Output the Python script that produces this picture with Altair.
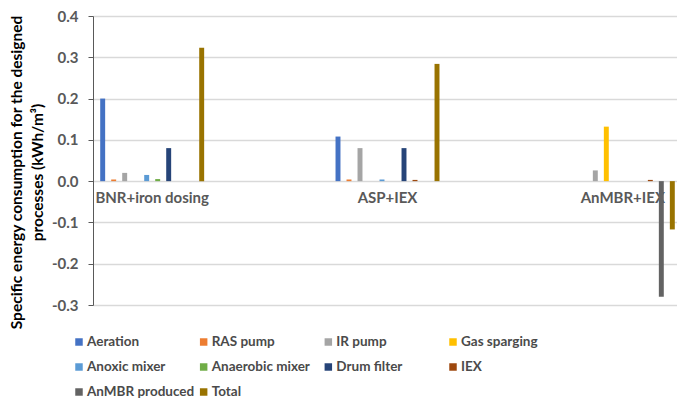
import altair as alt
import pandas as pd

processes = ["BNR+iron dosing", "ASP+IEX", "AnMBR+IEX"]
components = ["Aeration", "RAS pump", "IR pump", "Gas sparging", "Anoxic mixer",
              "Anaerobic mixer", "Drum filter", "IEX", "AnMBR produced", "Total"]
colors = ["#4472C4", "#ED7D31", "#A5A5A5", "#FFC000", "#5B9BD5",
          "#70AD47", "#264478", "#9E480E", "#636363", "#997300"]

bnr_values = [0.200, 0.004, 0.020, 0.0, 0.015, 0.005, 0.080, 0.0, 0.0, 0.323]
asp_values = [0.108, 0.004, 0.080, 0.0, 0.004, 0.0, 0.080, 0.003, 0.0, 0.284]
anmbr_values = [0.0, 0.0, 0.026, 0.132, 0.0, 0.0, 0.0, 0.003, -0.280, -0.117]

y_ticks = [-0.3, -0.2, -0.1, 0.0, 0.1, 0.2, 0.3, 0.4]

rows = []
for proc, vals in zip(processes, [bnr_values, asp_values, anmbr_values]):
    for comp, v in zip(components, vals):
        rows.append({"process": proc, "component": comp, "value": v})
df = pd.DataFrame(rows)

legend_df = pd.DataFrame({
    "component": components,
    "col": [i % 4 for i in range(len(components))],
    "row": [i // 4 for i in range(len(components))],
})

FONT = "Lato"
GREY = "#595959"
color_scale = alt.Scale(domain=components, range=colors)

bars = alt.Chart(df).mark_bar().encode(
    x=alt.X("process:N", sort=processes,
            scale=alt.Scale(paddingInner=0.497, paddingOuter=0, range=[0, 589]),
            axis=alt.Axis(title=None, orient="bottom", offset=-124, domain=False,
                          ticks=False, labelAngle=0, labelPadding=9,
                          labelFont=FONT, labelFontSize=15, labelFontWeight="bold",
                          labelColor=GREY)),
    xOffset=alt.XOffset("component:N", sort=components,
                        scale=alt.Scale(paddingInner=0.55, paddingOuter=0.655)),
    y=alt.Y("value:Q", scale=alt.Scale(domain=[-0.3, 0.4], nice=False, zero=False),
            axis=alt.Axis(values=y_ticks,
                          labelExpr="datum.value < 0 ? '-' + format(-datum.value, '.1f') : format(datum.value, '.1f')",
                          title=["Specific energy consumption for the designed", "processes (kWh/m³)"],
                          titleFont=FONT, titleFontSize=15.5, titleFontWeight="bold",
                          titleColor="#000000", titleLineHeight=21, titlePadding=6,
                          titleY=156,
                          labelFont=FONT, labelFontSize=15, labelFontWeight="bold",
                          labelColor=GREY, labelPadding=10, tickSize=5,
                          tickColor=GREY, domainColor=GREY, domainWidth=1,
                          grid=True, gridColor="#D9D9D9", gridWidth=1.5)),
    color=alt.Color("component:N", scale=color_scale, legend=None),
)

leg_x = alt.X("col:O", scale=alt.Scale(type="point", range=[-14, 360], padding=0), axis=None)
leg_y = alt.Y("row:O", scale=alt.Scale(type="point", range=[326, 376], padding=0), axis=None)

leg_squares = alt.Chart(legend_df).mark_square(size=56, opacity=1).encode(
    x=leg_x, y=leg_y,
    color=alt.Color("component:N", scale=color_scale, legend=None),
)
leg_text = alt.Chart(legend_df).mark_text(
    align="left", baseline="middle", dx=8, font=FONT, fontSize=13.5,
    fontWeight="bold", color="#4A4A4A",
).encode(x=leg_x, y=leg_y, text="component:N")

chart = alt.layer(bars, leg_squares, leg_text).resolve_scale(
    x="independent", y="independent"
).properties(
    width=584, height=289,
    autosize=alt.AutoSizeParams(type="none"),
    padding={"left": 85, "top": 8, "right": 0, "bottom": 94},
    background="white",
).configure_view(stroke=None)

chart.save("out.html", embed_options={"renderer": "svg", "actions": False})
